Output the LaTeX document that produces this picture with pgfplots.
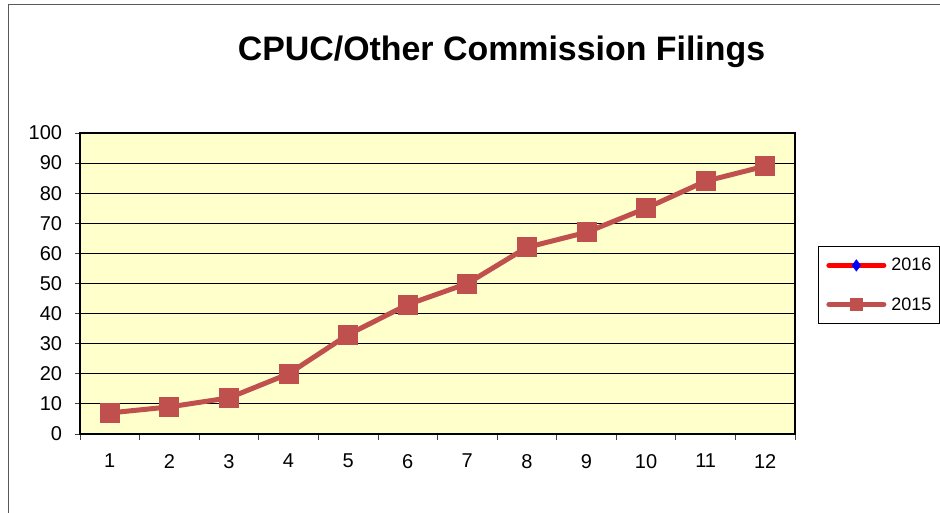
\documentclass[border=0pt]{standalone}
\usepackage{fontspec}
\setmainfont{Liberation Sans}
\usepackage{pgfplots}
\pgfplotsset{compat=1.18}
\definecolor{serA}{HTML}{C0504D}
\definecolor{bgY}{HTML}{FFFFCC}
\begin{document}
\begin{tikzpicture}[x=1pt,y=1pt]
\useasboundingbox (0,0) rectangle (940,513);
\draw[black!65, line width=1.5pt] (8.5,0) -- (8.5,508.5) -- (940,508.5);
\node[anchor=base, inner sep=0pt, font=\fontsize{33.9}{40}\selectfont\bfseries] at (501.5,452.3) {CPUC/Other Commission Filings};
\begin{axis}[
  at={(80pt,79pt)}, anchor=south west, scale only axis,
  width=715pt, height=301pt,
  xmin=0.5, xmax=12.5, ymin=0, ymax=100,
  xtick={1,...,12},
  every major x tick/.append style={draw=none},
  minor xtick={0.5,1.5,...,12.5},
  ytick={0,10,...,100},
  xtick pos=bottom, ytick pos=left,
  tick align=outside,
  major tick length=5pt, minor tick length=6pt,
  tick style={black!75, line width=0.8pt},
  ymajorgrids, grid style={black, line width=0.8pt},
  axis line style={black, line width=2pt},
  axis background/.style={fill=bgY},
  ticklabel style={font=\fontsize{20}{24}\selectfont},
  yticklabel style={anchor=east, inner sep=0pt, xshift=-12.7pt},
  xticklabel style={anchor=north, inner sep=0pt, yshift=-15pt},
  /pgf/number format/assume math mode=true,
  legend style={at={(1.032,0.625)}, anchor=north west, draw=black, line width=1pt,
    fill=white, font=\fontsize{18}{21}\selectfont, inner xsep=8pt, inner ysep=12pt,
    row sep=25pt, column sep=5pt, nodes={inner sep=0pt}},
  legend cell align=left,
  legend image code/.code={\draw[mark repeat=2,mark phase=2,#1,mark size=5.7pt] plot coordinates {(0pt,0pt) (27.5pt,0pt) (55pt,0pt)};},
]
\addlegendimage{red, line width=5pt, line cap=round, mark=diamond*, mark options={draw=blue, fill=blue, line width=0.5pt}}
\addlegendentry{2016}
\addplot[serA, line width=5pt, line join=round, line cap=round, mark=square*, mark size=9.5pt,
  mark options={fill=serA, draw=serA, line width=0.8pt, line join=miter}]
  coordinates {(1,7) (2,9) (3,12) (4,20) (5,33) (6,43) (7,50) (8,62) (9,67) (10,75) (11,84) (12,89)};
\addlegendentry{2015}
\end{axis}
\end{tikzpicture}
\end{document}
